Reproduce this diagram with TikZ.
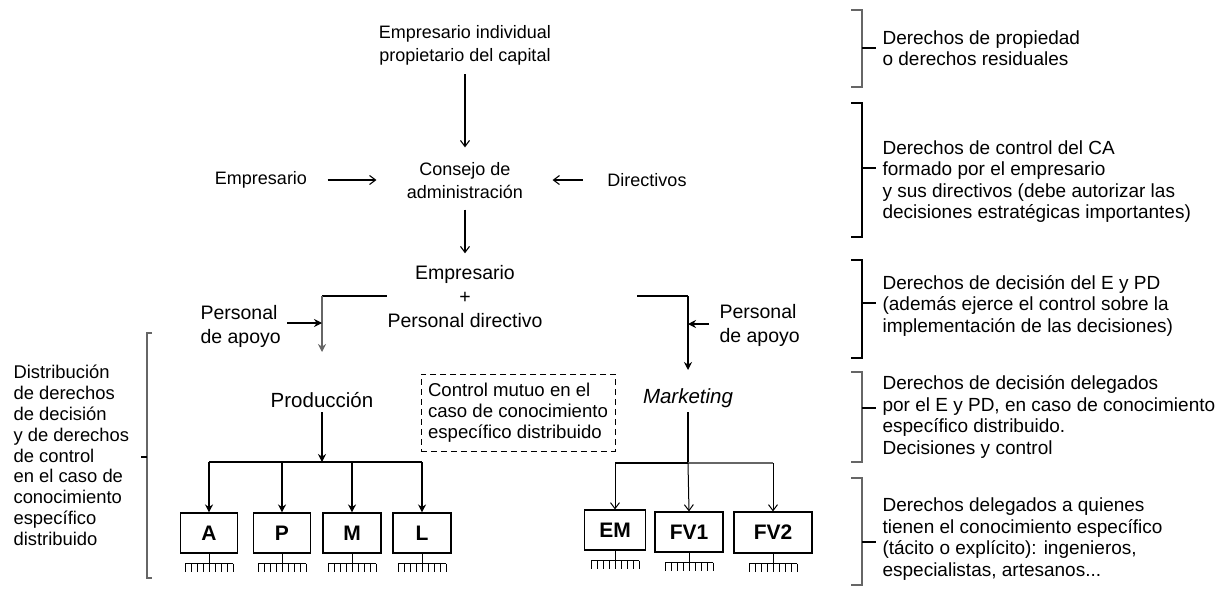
\documentclass[tikz,border=0pt]{standalone}
\usepackage{fontspec}
\setmainfont{Liberation Sans}
\usetikzlibrary{arrows.meta,calc}
\tikzset{
  base/.style={inner sep=0pt,align=center},
  mtxt/.style={base,font=\fontsize{18}{23}\selectfont},
  btxt/.style={base,font=\fontsize{19.5}{24}\selectfont},
  rtxt/.style={base,anchor=west,align=left,font=\fontsize{19}{21.5}\selectfont},
  ltxt/.style={base,anchor=west,align=left,font=\fontsize{18.4}{20.8}\selectfont},
  unitbox/.style={draw,inner sep=0pt,minimum height=40pt,font=\fontsize{21}{21}\selectfont\bfseries},
  oarr/.style={-{Straight Barb[length=6pt,width=9pt]}},
  farr/.style={-{Stealth[length=8pt,width=8pt]}},
  rough/.style={line width=1.4pt,black!60},
  bracepath/.style={line width=1.1pt},
  comb/.pic={\draw[line width=1pt] (0,0) -- (0,10) (-24,10) -- (24,10);
    \foreach \i in {0,...,8} \draw[line width=0.9pt] (-24+\i*6,10) -- ++(0,8);}
}
\begin{document}
\begin{tikzpicture}[x=1pt,y=-1pt,line width=1.1pt]
\useasboundingbox (0,0) rectangle (1216,589);

% main texts
\node[mtxt] (top) at (465,45) {Empresario individual\\propietario del capital};
\node[mtxt] (ca) at (465,181) {Consejo de\\administración};
\node[mtxt] (emp) at (261,180) {Empresario};
\node[mtxt] (dir) at (647,180) {Directivos};
\node[btxt] (epd) at (465,297) {Empresario\\+\\Personal directivo};
\node[btxt,anchor=west,align=left] (pa1) at (200,326) {Personal\\de apoyo};
\node[btxt,anchor=west,align=left] (pa2) at (719,325) {Personal\\de apoyo};
\node[btxt,font=\fontsize{20.5}{24}\selectfont] (prod) at (322,400) {Producción};
\node[btxt,font=\fontsize{20.5}{24}\selectfont\itshape] (mkt) at (688,398) {Marketing};
\node[draw,dash pattern=on 6pt off 4pt,line width=1pt,minimum width=194pt,minimum height=77pt,inner sep=0pt,align=left,
      font=\fontsize{18.6}{21}\selectfont] (ctrl) at (518,412.5)
  {Control mutuo en el\\caso de conocimiento\\específico distribuido};

% units
\node[unitbox,minimum width=57pt] (A) at (209,533) {A};
\node[unitbox,minimum width=57pt] (P) at (282,533) {P};
\node[unitbox,minimum width=58pt] (M) at (352,533) {M};
\node[unitbox,minimum width=58pt] (L) at (422,533) {L};
\node[unitbox,minimum width=61pt] (EM) at (615,530) {EM};
\node[unitbox,minimum width=68pt] (FV1) at (689,532) {FV1};
\node[unitbox,minimum width=78pt,minimum height=41pt] (FV2) at (773,532.5) {FV2};
\foreach \n in {A,P,M,L,EM,FV1,FV2} \pic at (\n.south) {comb};

% left text
\node[ltxt] (ltext) at (13,455.5) {Distribución\\de derechos\\de decisión\\y de derechos\\de control\\en el caso de\\conocimiento\\específico\\distribuido};

% right texts
\node[rtxt] (r1) at (882,48) {Derechos de propiedad\\o derechos residuales};
\node[rtxt] (r2) at (882,181.5) {Derechos de control del CA\\formado por el empresario\\y sus directivos (debe autorizar las\\decisiones estratégicas importantes)};
\node[rtxt] (r3) at (882,305.5) {Derechos de decisión del E y PD\\(además ejerce el control sobre la\\implementación de las decisiones)};
\node[rtxt] (r4) at (882,417) {Derechos de decisión delegados\\por el E y PD, en caso de conocimiento\\específico distribuido.\\Decisiones y control};
\node[rtxt] (r5) at (882,539) {Derechos delegados a quienes\\tienen el conocimiento específico\\(tácito o explícito): ingenieros,\\especialistas, artesanos...};

% upper arrows
\draw[oarr,shorten <=9pt,shorten >=15pt] (top.south) -- (ca.north);
\draw[oarr,shorten <=20pt,shorten >=30pt] (emp.east) -- (emp.east -| ca.west);
\draw[oarr,shorten <=24pt,shorten >=29pt] (dir.west) -- (dir.west -| ca.east);
\draw[oarr,shorten <=10pt,shorten >=12pt] (ca.south) -- (epd.north);

% left branch
\coordinate (jl) at (322,296);
\coordinate (pl) at (322,352);
\draw (epd.west |- jl) -- (jl);
\draw[rough,farr] (jl) -- (pl);
\draw[farr,shorten <=6pt] (pa1.east |- 0,323) -- (jl |- 0,323);

% right branch
\coordinate (jr) at (688,296);
\coordinate (pr) at (688,370);
\draw[shorten <=94pt] (epd.east |- jr) -- (jr);
\draw[farr] (jr) -- (pr);
\draw[farr,shorten <=10pt] (pa2.west |- 0,324) -- (jr |- 0,324);

% production tree
\coordinate (pj) at (322,462);
\draw[farr,shorten <=4pt] (prod.south) -- (pj);
\draw (A.north |- pj) -- (L.north |- pj);
\foreach \n in {A,P,M,L} \draw[farr] (\n.north |- pj) -- (\n.north);

% marketing tree
\coordinate (mj) at (688,463);
\draw[shorten <=4pt] (mkt.south) -- (mj);
\draw (EM.north |- mj) -- (mj);
\draw[rough] (mj) -- (FV2.north |- mj);
\draw[oarr,line width=1pt] (EM.north |- mj) -- (EM.north);
\draw[oarr,line width=1pt] (mj) -- (FV1.north);
\draw[oarr,line width=1pt] (FV2.north |- mj) -- (FV2.north);

% right braces
\draw[rough] (851,10) -- (862,10) -- (862,87) -- (851,87);
\draw[bracepath] (862,48) -- (876,48);
\draw[bracepath] (851,103) -- (862,103) -- (862,237) -- (851,237);
\draw[bracepath] (862,168) -- (876,168);
\draw[bracepath] (851,260) -- (862,260) -- (862,358) -- (851,358);
\draw[bracepath] (862,303) -- (876,303);
\draw[rough] (851,372) -- (862,372) -- (862,462) -- (851,462);
\draw[bracepath] (862,408) -- (876,408);
\draw[rough] (851,478) -- (862,478) -- (862,585) -- (851,585);
\draw[bracepath] (862,542) -- (876,542);

% left brace
\draw[rough] (152,333) -- (147,333) -- (147,578) -- (152,578);
\draw[bracepath] (147,457) -- (141,457);
\end{tikzpicture}
\end{document}
